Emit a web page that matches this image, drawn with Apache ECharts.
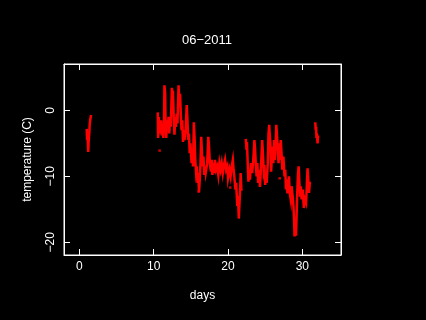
<!DOCTYPE html>
<html lang="en">
<head>
<meta charset="utf-8" />
<title>06-2011</title>
<script src="https://cdn.jsdelivr.net/npm/echarts@6/dist/echarts.min.js"></script>
<style>
  html, body { margin: 0; padding: 0; background: #000; }
  #chart { width: 426px; height: 320px; }
</style>
</head>
<body>
<div id="chart"></div>
<script type="text/javascript">
  // readings, [day, temperature C], one list per run without gaps
  var run1 = [[1.0,-3.0],[1.05,-4.5],[1.1,-3.5],[1.2,-6.3],[1.25,-4.8],[1.35,-3.3],[1.4,-2.0],[1.5,-1.2],[1.55,-0.9]];

  var run2 = [[10.55,-0.5],[10.6,-4.2],[10.7,-1.0],[10.75,-3.5],[10.8,-2.0],[10.9,-3.0],[11.0,-1.5],[11.1,-3.8],
    [11.2,-2.0],[11.3,-4.2],[11.4,-1.0],[11.45,3.8],[11.55,2.5],[11.6,-2.0],[11.7,-4.2],[11.8,-1.5],[11.9,-3.0],
    [12.0,-1.0],[12.1,-3.5],[12.2,-1.5],[12.3,-2.5],[12.45,3.4],[12.55,1.0],[12.6,3.0],[12.7,-1.0],[12.8,-3.7],
    [12.9,-1.0],[13.0,-2.5],[13.1,-0.5],[13.2,-2.0],[13.35,3.8],[13.45,1.0],[13.55,2.5],[13.65,-0.5],[13.75,-3.0],
    [13.85,-1.5],[13.95,-4.8],[14.05,-3.0],[14.15,-4.5],[14.3,-3.0],[14.45,0.8],[14.55,-1.5],[14.65,-4.5],
    [14.75,-3.5],[14.85,-6.5],[14.95,-5.0],[15.1,-8.0],[15.2,-6.5],[15.3,-8.5],[15.4,-1.8],[15.5,-4.0],
    [15.6,-7.5],[15.7,-9.3],[15.8,-8.5],[15.9,-11.0],[16.0,-9.5],[16.1,-12.4],[16.2,-10.5],[16.3,-8.0],
    [16.4,-4.0],[16.5,-6.5],[16.6,-8.5],[16.7,-7.0],[16.8,-9.8],[16.9,-8.5],[17.0,-9.5],[17.2,-8.0],
    [17.35,-4.0],[17.45,-5.5],[17.55,-8.0],[17.7,-9.3],[17.8,-7.5],[17.9,-9.8],[18.0,-8.0],[18.1,-9.5],
    [18.25,-7.5],[18.4,-9.0],[18.55,-8.5],[18.7,-9.8],[18.85,-8.0],[19.0,-9.0],[19.15,-8.0],[19.3,-9.5],
    [19.45,-8.3],[19.6,-7.5],[19.75,-9.0],[19.9,-8.5],[20.0,-10.3],[20.2,-9.0],[20.35,-10.0],[20.5,-8.5],
    [20.65,-7.5],[20.75,-9.0],[20.85,-10.0],[21.0,-12.0],[21.1,-11.0],[21.25,-14.5],[21.35,-13.0],
    [21.45,-16.4],[21.55,-14.0],[21.65,-11.5],[21.7,-9.5],[21.8,-12.0]];

  var run3 = [[22.4,-4.5],[22.5,-6.0],[22.55,-4.8],[22.65,-8.0],[22.75,-10.8],[22.85,-9.0],[22.95,-10.5],
    [23.1,-8.0],[23.25,-9.5],[23.4,-7.5],[23.55,-4.5],[23.65,-6.0],[23.75,-8.5],[23.85,-10.0],[23.95,-8.0],
    [24.05,-11.0],[24.15,-9.0],[24.3,-11.6],[24.4,-9.5],[24.5,-7.0],[24.6,-4.5],[24.7,-6.5],[24.8,-9.0],
    [24.9,-8.3],[25.0,-11.3],[25.1,-10.0],[25.2,-11.0],[25.35,-8.0],[25.45,-3.5],[25.55,-2.2],[25.6,-3.5],
    [25.7,-5.0],[25.8,-9.3],[25.9,-7.0],[26.0,-5.5],[26.1,-8.0],[26.2,-4.5],[26.3,-7.5],[26.4,-5.0],
    [26.5,-2.2],[26.6,-4.0],[26.7,-6.0],[26.8,-8.0],[26.9,-5.0],[27.0,-7.5],[27.1,-4.5],[27.2,-6.5],
    [27.3,-9.0],[27.45,-7.0],[27.6,-10.0],[27.7,-9.0],[27.8,-12.0],[27.9,-10.5],[28.0,-12.6],[28.1,-11.0],
    [28.2,-10.0],[28.3,-12.5],[28.45,-13.6],[28.55,-11.5],[28.7,-13.0],[28.8,-14.5],[28.9,-17.0],
    [28.95,-19.1],[29.05,-17.5],[29.15,-19.0],[29.25,-15.0],[29.3,-13.0],[29.4,-10.0],[29.5,-8.5],
    [29.6,-11.0],[29.7,-13.1],[29.8,-11.5],[29.9,-13.5],[30.05,-12.0],[30.2,-14.8],[30.35,-13.5],
    [30.5,-14.0],[30.6,-11.5],[30.7,-8.8],[30.8,-10.5],[30.9,-12.5],[31.0,-11.0]];

  var run4 = [[31.75,-2.0],[31.8,-3.0],[31.85,-2.5],[31.9,-4.2],[31.95,-3.5],[32.05,-5.0],[32.1,-4.0]];

  // lone readings that sit apart from the trace
  var loners = [[10.8,-6.1],[16.05,-12.3],[20.3,-11.7],[26.95,-10.3]];

  var xTicks = [0, 10, 20, 30];
  var yTicks = [-20, -10, 0];

  var chart = echarts.init(document.getElementById('chart'));

  var fg = '#fff';
  var red = '#ff0000';
  var font = 'Liberation Sans';

  function minus(v) { return String(v).replace('-', '\u2212'); }

  var baseX = {
    type: 'value', min: -2.06, max: 35.2,
    axisLine: { show: true, onZero: false, lineStyle: { color: fg, width: 1 } },
    axisTick: { show: true, inside: true, length: 6, lineStyle: { color: fg }, customValues: xTicks },
    splitLine: { show: false }
  };
  var baseY = {
    type: 'value', min: -21.92, max: 7.02,
    axisLine: { show: true, onZero: false, lineStyle: { color: fg, width: 1 } },
    axisTick: { show: true, inside: true, length: 6, lineStyle: { color: fg }, customValues: yTicks },
    splitLine: { show: false }
  };

  var series = [run1, run2, run3, run4].map(function (run) {
    return {
      type: 'line', data: run, xAxisIndex: 0, yAxisIndex: 0,
      showSymbol: false, symbol: 'none',
      lineStyle: { color: red, width: 2.5, join: 'miter', cap: 'square' }
    };
  });
  series.push({
    type: 'scatter', data: loners, xAxisIndex: 0, yAxisIndex: 0,
    symbol: 'rect', symbolSize: 2.5, itemStyle: { color: red }
  });

  var option = {
    backgroundColor: '#000',
    animation: false,
    title: {
      text: '06\u22122011', left: 202, top: 29, textAlign: 'center',
      textStyle: { color: fg, fontSize: 13, fontWeight: 'normal', fontFamily: font }
    },
    grid: { left: 64, top: 64, width: 277, height: 191, show: true, borderColor: fg, borderWidth: 1, backgroundColor: 'transparent' },
    xAxis: [
      Object.assign({}, baseX, {
        position: 'bottom', name: 'days', nameLocation: 'middle', nameGap: 35,
        nameTextStyle: { color: fg, fontSize: 12, fontFamily: font },
        axisLabel: { color: fg, fontSize: 12, fontFamily: font, margin: 6, customValues: xTicks }
      }),
      Object.assign({}, baseX, { position: 'top', axisLabel: { show: false } })
    ],
    yAxis: [
      Object.assign({}, baseY, {
        position: 'left', name: 'temperature (C)', nameLocation: 'middle', nameGap: 30,
        nameTextStyle: { color: fg, fontSize: 12, fontFamily: font },
        axisLabel: { color: fg, fontSize: 12, fontFamily: font, margin: 7, rotate: 90, customValues: yTicks, formatter: minus }
      }),
      Object.assign({}, baseY, { position: 'right', axisLabel: { show: false } })
    ],
    series: series
  };

  chart.setOption(option);
</script>
</body>
</html>
